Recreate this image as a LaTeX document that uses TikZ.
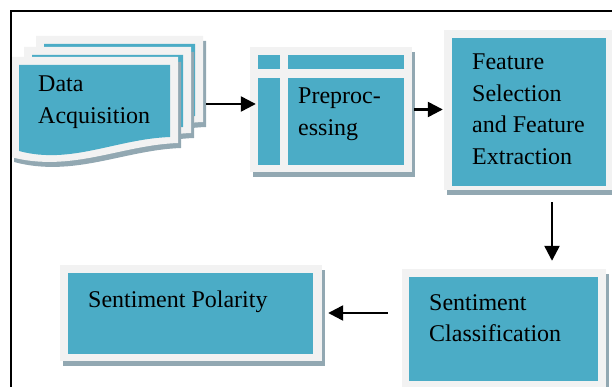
\documentclass[tikz,border=0pt]{standalone}
\usepackage{fontspec}
\setmainfont{Liberation Serif}
\usetikzlibrary{arrows.meta,calc}
\definecolor{tealc}{RGB}{75,172,198}
\definecolor{lightc}{RGB}{242,242,242}
\definecolor{shadc}{RGB}{146,168,178}
\newcommand\docpage[2]{%
 \begin{scope}[shift={(#1,#2)}]
  \fill[shadc] (3,5) -- (170,5) -- (170,91) .. controls (113,93) and (63,121) .. (3,105) -- cycle;
  \fill[lightc] (0,0) -- (167,0) -- (167,86) .. controls (110,88) and (60,116) .. (0,100) -- cycle;
  \fill[tealc] (8,8) -- (159,8) -- (159,80) .. controls (105,82) and (60,108) .. (8,94) -- cycle;
 \end{scope}}
\begin{document}
\begin{tikzpicture}[x=1pt,y=-1pt,
  txt/.style={anchor=north west, inner sep=0pt, align=left, font=\fontsize{24}{31.5}\selectfont},
  graybox/.style={fill=lightc, draw=none, inner sep=0pt, preaction={fill=shadc, transform canvas={xshift=3pt,yshift=-5pt}}},
  arr/.style={line width=2.4pt, -{Triangle[length=15pt,width=15pt]}}
]
\useasboundingbox (0,0) rectangle (612,387);
% data acquisition stack
\docpage{36}{36}
\docpage{24}{47}
\docpage{11}{57}
\node[inner sep=0pt, minimum width=195pt, minimum height=134pt] (da) at (108.5,104) {};
% preprocessing
\node[graybox, minimum width=162pt, minimum height=125pt] (pre) at (331,109.5) {};
\fill[tealc] (258,55) rectangle (280,69);
\fill[tealc] (288,55) rectangle (404,69);
\fill[tealc] (258,78) rectangle (280,165);
\fill[tealc] (288,78) rectangle (404,165);
% feature
\node[graybox, minimum width=170pt, minimum height=160pt] (fe) at (529,110) {};
\fill[tealc] (452,38) rectangle (606,186);
% classification
\node[graybox, minimum width=204pt, minimum height=126pt] (sc) at (504,332) {};
\fill[tealc] (409,277) rectangle (598,381);
% polarity
\node[graybox, minimum width=262pt, minimum height=96pt] (sp) at (191,313) {};
\fill[tealc] (68,273) rectangle (313,354);
% texts
\node[txt] (datxt) at (38,76) {Data\\Acquisition};
\node[txt] (pretxt) at (298,88) {Preproc-\\essing};
\node[txt] (fetxt) at (472,54) {Feature\\Selection\\and Feature\\Extraction};
\node[txt] (sctxt) at (429,294) {Sentiment\\Classification};
\node[txt] (sptxt) at (88,291) {Sentiment Polarity};
% arrows
\coordinate (b1) at ($(da.east -| pre.west)+(6,0)$);
\draw[arr] (da.east) -- (b1);
\coordinate (b2) at (pre.east -| fe.west);
\draw[arr, shorten <=2pt, shorten >=1pt] (pre.east) -- (b2);
\coordinate (a3) at ($(fe.south)+(23,12)$);
\coordinate (b3) at (a3 |- sc.north);
\draw[arr, shorten >=8pt] (a3) -- (b3);
\coordinate (a4) at (sc.west |- sp.east);
\draw[arr, shorten <=14pt, shorten >=6pt] (a4) -- (sp.east);
% frame
\draw[line width=2pt] (11,387) -- (11,11) -- (612,11);
\end{tikzpicture}
\end{document}
